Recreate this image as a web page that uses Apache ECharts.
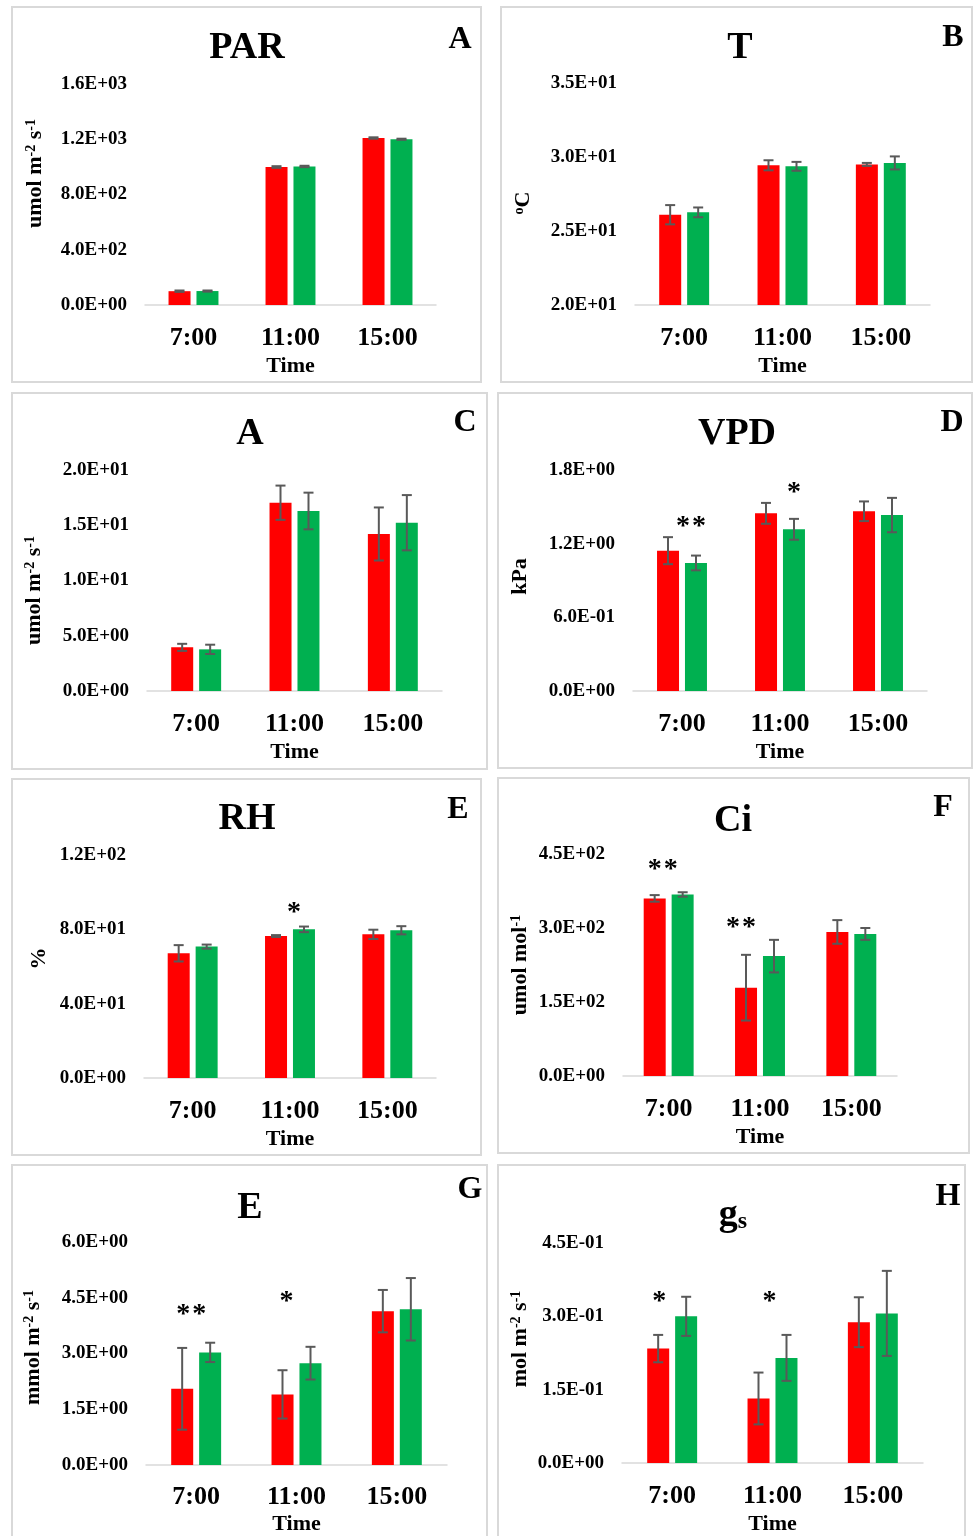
<!DOCTYPE html>
<html>
<head>
<meta charset="utf-8">
<script src="https://cdn.jsdelivr.net/npm/echarts@6/dist/echarts.min.js"></script>
<style>
  html, body { margin: 0; padding: 0; background: #fff; }
  #main { width: 974px; height: 1536px; }
</style>
</head>
<body>
<div id="main"></div>
<script>
// categories
const times = ['7:00', '11:00', '15:00'];

// axis ranges: [min, step, max]
const parAxis = [0, 400, 1600];
const tAxis = [20, 5, 35];
const aAxis = [0, 5, 20];
const vpdAxis = [0, 0.6, 1.8];
const rhAxis = [0, 40, 120];
const ciAxis = [0, 150, 450];
const eAxis = [0, 1.5, 6];
const gsAxis = [0, 0.15, 0.45];

// PAR
const parRed = [100, 999, 1209];
const parGreen = [101, 1003, 1200];
const parRedErr = [5, 6, 5];
const parGreenErr = [4, 5, 4];
const parStars = ['', '', ''];
const parStarAt = [0, 0, 0];

// T
const tRed = [26.1, 29.44, 29.5];
const tGreen = [26.26, 29.37, 29.6];
const tRedErr = [0.65, 0.34, 0.1];
const tGreenErr = [0.33, 0.3, 0.44];
const tStars = ['', '', ''];
const tStarAt = [0, 0, 0];

// A
const aRed = [3.95, 17.04, 14.21];
const aGreen = [3.77, 16.29, 15.23];
const aRedErr = [0.32, 1.55, 2.4];
const aGreenErr = [0.42, 1.66, 2.5];
const aStars = ['', '', ''];
const aStarAt = [0, 0, 0];

// VPD
const vpdRed = [1.143, 1.447, 1.464];
const vpdGreen = [1.043, 1.317, 1.433];
const vpdRedErr = [0.11, 0.085, 0.08];
const vpdGreenErr = [0.06, 0.085, 0.14];
const vpdStars = ['**', '*', ''];
const vpdStarAt = [1.39, 1.66, 0];

// RH
const rhRed = [67.1, 76.4, 77.3];
const rhGreen = [70.7, 80.0, 79.5];
const rhRedErr = [4.4, 0.5, 2.5];
const rhGreenErr = [1.1, 1.5, 2.2];
const rhStars = ['', '*', ''];
const rhStarAt = [0, 92, 0];

// Ci
const ciRed = [360, 179, 292];
const ciGreen = [368, 243, 288];
const ciRedErr = [6.7, 66.6, 24];
const ciGreenErr = [4.5, 33, 12];
const ciStars = ['**', '**', ''];
const ciStarAt = [431, 313, 0];

// E
const eRed = [2.05, 1.9, 4.14];
const eGreen = [3.03, 2.74, 4.19];
const eRedErr = [1.1, 0.65, 0.57];
const eGreenErr = [0.26, 0.44, 0.84];
const eStars = ['**', '*', ''];
const eStarAt = [4.21, 4.56, 0];

// gs
const gsRed = [0.234, 0.132, 0.288];
const gsGreen = [0.300, 0.215, 0.306];
const gsRedErr = [0.028, 0.053, 0.051];
const gsGreenErr = [0.04, 0.047, 0.087];
const gsStars = ['*', '*', ''];
const gsStarAt = [0.342, 0.342, 0];

const serif = '"Liberation Serif", "Times New Roman", serif';
const RED = '#ff0000';
const GREEN = '#00b050';
const ERR = '#595959';
const FRAME = '#d9d9d9';
const BAR_W = 22;
const BAR_SHIFT = 14;

// layout per panel (pixels)
const panels = [
  { title: 'PAR', letter: 'A', yName: 'umol m{sup|-2} s{sup|-1}', axis: parAxis,
    red: parRed, green: parGreen, redErr: parRedErr, greenErr: parGreenErr, stars: parStars, starAt: parStarAt,
    box: [12, 7, 469, 375], grid: [145, 84, 291, 221], tpos: [247, 48], lpos: [460, 40],
    nameGap: 99, nameShift: 21, starDx: [0, 0, 0] },
  { title: 'T', letter: 'B', yName: '{sup|o}C', axis: tAxis,
    red: tRed, green: tGreen, redErr: tRedErr, greenErr: tGreenErr, stars: tStars, starAt: tStarAt,
    box: [501, 7, 471, 375], grid: [635, 83, 295, 222], tpos: [740, 48], lpos: [953, 38],
    nameGap: 101, nameShift: -9, starDx: [0, 0, 0] },
  { title: 'A', letter: 'C', yName: 'umol m{sup|-2} s{sup|-1}', axis: aAxis,
    red: aRed, green: aGreen, redErr: aRedErr, greenErr: aGreenErr, stars: aStars, starAt: aStarAt,
    box: [12, 393, 475, 376], grid: [147, 470, 295, 221], tpos: [250, 434], lpos: [465, 423],
    nameGap: 102, nameShift: -10, starDx: [0, 0, 0] },
  { title: 'VPD', letter: 'D', yName: 'kPa', axis: vpdAxis,
    red: vpdRed, green: vpdGreen, redErr: vpdRedErr, greenErr: vpdGreenErr, stars: vpdStars, starAt: vpdStarAt,
    box: [498, 393, 474, 375], grid: [633, 470, 294, 221], tpos: [737, 434], lpos: [952, 423],
    nameGap: 102, nameShift: 4, starDx: [9, 14, 0] },
  { title: 'RH', letter: 'E', yName: '%', axis: rhAxis,
    red: rhRed, green: rhGreen, redErr: rhRedErr, greenErr: rhGreenErr, stars: rhStars, starAt: rhStarAt,
    box: [12, 779, 469, 376], grid: [144, 855, 292, 223], tpos: [247, 819], lpos: [458, 810],
    nameGap: 94, nameShift: 8, starDx: [0, 4, 0] },
  { title: 'Ci', letter: 'F', yName: 'umol mol{sup|-1}', axis: ciAxis,
    red: ciRed, green: ciGreen, redErr: ciRedErr, greenErr: ciGreenErr, stars: ciStars, starAt: ciStarAt,
    box: [498, 778, 471, 375], grid: [623, 854, 274, 222], tpos: [733, 821], lpos: [943, 808],
    nameGap: 92, nameShift: 0, starDx: [-6, -19, 0] },
  { title: 'E', letter: 'G', yName: 'mmol m{sup|-2} s{sup|-1}', axis: eAxis,
    red: eRed, green: eGreen, redErr: eRedErr, greenErr: eGreenErr, stars: eStars, starAt: eStarAt,
    box: [12, 1165, 475, 380], grid: [146, 1242, 301, 229], tpos: [250, 1208], lpos: [470, 1190],
    nameGap: 102, nameShift: 6, starDx: [-5, -10, 0], catGap: 19, timeGap: 48 },
  { title: '{g|g}{s|s}', letter: 'H', yName: 'mol m{sup|-2} s{sup|-1}', axis: gsAxis,
    red: gsRed, green: gsGreen, redErr: gsRedErr, greenErr: gsGreenErr, stars: gsStars, starAt: gsStarAt,
    box: [498, 1165, 467, 380], grid: [622, 1243, 301, 222], tpos: [733, 1215], lpos: [948, 1197],
    nameGap: 91, nameShift: 14, starDx: [-13, -3, 0] }
];

function sci(v) {
  if (Math.abs(v) < 1e-12) return '0.0E+00';
  const parts = Number(v).toExponential(1).split('e');
  const e = parseInt(parts[1], 10);
  return parts[0] + 'E' + (e < 0 ? '-' : '+') + String(Math.abs(e)).padStart(2, '0');
}

const grid = [], xAxis = [], yAxis = [], series = [], graphic = [];

panels.forEach(function (p, i) {
  graphic.push({
    type: 'rect', silent: true,
    shape: { x: p.box[0], y: p.box[1], width: p.box[2], height: p.box[3] },
    style: { fill: 'none', stroke: FRAME, lineWidth: 2 }
  });
  graphic.push({
    type: 'text', silent: true, x: p.tpos[0], y: p.tpos[1],
    style: {
      text: p.title, fill: '#000', font: 'bold 38px ' + serif,
      textAlign: 'center', textVerticalAlign: 'middle',
      rich: {
        g: { fontSize: 38, fontWeight: 'bold', fontFamily: serif, fill: '#000' },
        s: { fontSize: 24, fontWeight: 'bold', fontFamily: serif, fill: '#000', verticalAlign: 'bottom' }
      }
    }
  });
  graphic.push({
    type: 'text', silent: true, x: p.lpos[0], y: p.lpos[1],
    style: {
      text: p.letter, fill: '#000', font: 'bold 32px ' + serif,
      textAlign: 'center', textVerticalAlign: 'middle'
    }
  });

  grid.push({ left: p.grid[0], top: p.grid[1], width: p.grid[2], height: p.grid[3] });

  xAxis.push({
    type: 'category', gridIndex: i, data: times,
    axisLine: { lineStyle: { color: FRAME, width: 1.5 } },
    axisTick: { show: false },
    axisLabel: { margin: p.catGap || 20, color: '#000', fontFamily: serif, fontWeight: 'bold', fontSize: 26 },
    name: 'Time', nameLocation: 'middle', nameGap: p.timeGap || 50,
    nameTextStyle: { color: '#000', fontFamily: serif, fontWeight: 'bold', fontSize: 22 }
  });

  const sh = p.nameShift;
  yAxis.push({
    type: 'value', gridIndex: i,
    min: p.axis[0], max: p.axis[2], interval: p.axis[1],
    axisLine: { show: false }, axisTick: { show: false }, splitLine: { show: false },
    axisLabel: { formatter: sci, margin: 18, color: '#000', fontFamily: serif, fontWeight: 'bold', fontSize: 19 },
    name: p.yName, nameLocation: 'middle', nameRotate: 90, nameGap: p.nameGap,
    nameTextStyle: {
      color: '#000', fontFamily: serif, fontWeight: 'bold', fontSize: 22,
      padding: sh > 0 ? [0, 0, 0, 2 * sh] : [0, -2 * sh, 0, 0],
      rich: { sup: { fontFamily: serif, fontWeight: 'bold', fontSize: 14, verticalAlign: 'top', color: '#000' } }
    }
  });

  series.push({
    type: 'bar', xAxisIndex: i, yAxisIndex: i, data: p.red,
    barWidth: BAR_W, barGap: '27%', itemStyle: { color: RED }, silent: true
  });
  series.push({
    type: 'bar', xAxisIndex: i, yAxisIndex: i, data: p.green,
    barWidth: BAR_W, barGap: '27%', itemStyle: { color: GREEN }, silent: true
  });

  const errData = [];
  times.forEach(function (t, k) {
    errData.push([k, p.red[k], p.redErr[k], 0]);
    errData.push([k, p.green[k], p.greenErr[k], 1]);
  });
  series.push({
    type: 'custom', xAxisIndex: i, yAxisIndex: i, data: errData, silent: true, z: 5,
    encode: { x: 0, y: 1 },
    renderItem: function (params, api) {
      const k = api.value(0), v = api.value(1), e = api.value(2), side = api.value(3);
      const hi = api.coord([k, v + e]);
      const lo = api.coord([k, v - e]);
      const x = hi[0] + (side ? BAR_SHIFT : -BAR_SHIFT);
      const st = { stroke: ERR, lineWidth: 2 };
      return {
        type: 'group', children: [
          { type: 'line', shape: { x1: x, y1: hi[1], x2: x, y2: lo[1] }, style: st },
          { type: 'line', shape: { x1: x - 5, y1: hi[1], x2: x + 5, y2: hi[1] }, style: st },
          { type: 'line', shape: { x1: x - 5, y1: lo[1], x2: x + 5, y2: lo[1] }, style: st }
        ]
      };
    }
  });

  const starData = [];
  p.stars.forEach(function (s, k) { if (s) starData.push([k, p.starAt[k]]); });
  if (starData.length) {
    series.push({
      type: 'custom', xAxisIndex: i, yAxisIndex: i, data: starData, silent: true, z: 6,
      encode: { x: 0, y: 1 },
      renderItem: function (params, api) {
        const k = api.value(0);
        const c = api.coord([k, api.value(1)]);
        const txt = p.stars[k].split('').map(function (ch) { return '{a|' + ch + '}'; }).join('');
        return {
          type: 'text', x: c[0] + p.starDx[k], y: c[1] + 6,
          style: {
            text: txt, textAlign: 'center', textVerticalAlign: 'middle', fill: '#000',
            rich: { a: { fontFamily: serif, fontWeight: 'bold', fontSize: 28, padding: [0, 1, 0, 1], fill: '#000' } }
          }
        };
      }
    });
  }
});

const chart = echarts.init(document.getElementById('main'));
chart.setOption({
  backgroundColor: '#fff',
  animation: false,
  grid: grid,
  xAxis: xAxis,
  yAxis: yAxis,
  series: series,
  graphic: graphic
});
</script>
</body>
</html>
